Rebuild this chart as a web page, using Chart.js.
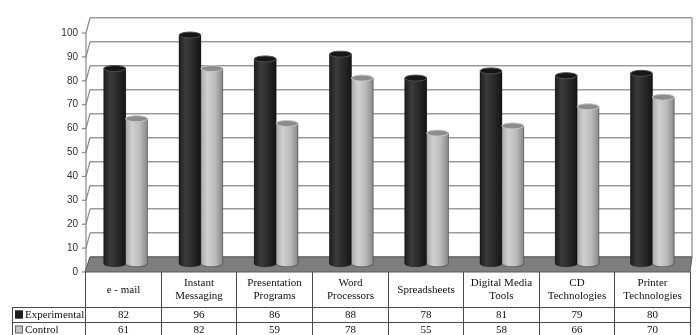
<!DOCTYPE html>
<html><head><meta charset="utf-8">
<script src="https://cdn.jsdelivr.net/npm/chart.js@4"></script>
<style>html,body{margin:0;padding:0;background:#fff}#wrap{width:696px;height:335px;position:relative}</style>
</head><body><div id="wrap"><canvas id="c" width="696" height="335"></canvas></div>
<script>
const categories = [["e - mail"],["Instant","Messaging"],["Presentation","Programs"],["Word","Processors"],["Spreadsheets"],["Digital Media","Tools"],["CD","Technologies"],["Printer","Technologies"]];
const seriesNames = ["Experimental","Control"];
const experimental = [82,96,86,88,78,81,79,80];
const control = [61,82,59,78,55,58,66,70];
const yMin = 0, yMax = 100, yStep = 10;

const DX = 5, DY = 15; // 3D depth (back wall vs front)
const SERIF = '"Liberation Serif","Times New Roman",serif';

function drawCyl(ctx, x, top, base, w, dark) {
  const l = x - w/2, r = x + w/2, ry = 3;
  const g = ctx.createLinearGradient(l,0,r,0);
  if (dark) { g.addColorStop(0,'#1e1e1e'); g.addColorStop(0.3,'#3b3b3b'); g.addColorStop(0.6,'#2b2b2b'); g.addColorStop(1,'#151515'); }
  else { g.addColorStop(0,'#a9a9a9'); g.addColorStop(0.3,'#d0d0d0'); g.addColorStop(0.65,'#bbbbbb'); g.addColorStop(1,'#888888'); }
  ctx.fillStyle = g;
  ctx.beginPath();
  ctx.moveTo(l, top);
  ctx.lineTo(l, base);
  ctx.ellipse(x, base, w/2, ry, 0, Math.PI, 0, true);
  ctx.lineTo(r, top);
  ctx.closePath();
  ctx.fill();
  ctx.strokeStyle = 'rgba(0,0,0,0.45)'; ctx.lineWidth = 0.8; ctx.stroke();
  ctx.beginPath();
  ctx.ellipse(x, top, w/2, ry, 0, 0, Math.PI*2);
  ctx.fillStyle = dark ? '#161616' : '#8c8c8c';
  ctx.fill();
  ctx.strokeStyle = dark ? '#505050' : '#c6c6c6'; ctx.lineWidth = 1; ctx.stroke();
}

const deco = {
  id: 'deco',
  beforeDatasetsDraw(chart) {
    const {ctx, chartArea: a, scales: {y}} = chart;
    ctx.save();
    ctx.strokeStyle = '#9c9c9c'; ctx.lineWidth = 1.5;
    ctx.beginPath(); ctx.moveTo(a.right, a.top); ctx.lineTo(a.right, a.bottom); ctx.stroke();
    ctx.strokeStyle = '#888'; ctx.lineWidth = 1.2;
    const fx = a.left - DX + 1;
    ctx.beginPath();
    ctx.moveTo(fx, y.getPixelForValue(yMax) + DY);
    ctx.lineTo(fx, y.getPixelForValue(yMin) + DY);
    ctx.stroke();
    for (let v = yMin; v <= yMax; v += yStep) {
      const by = y.getPixelForValue(v);
      ctx.beginPath(); ctx.moveTo(fx, by + DY); ctx.lineTo(a.left, by); ctx.stroke();
      ctx.beginPath(); ctx.moveTo(fx - 4, by + DY); ctx.lineTo(fx, by + DY); ctx.stroke();
    }
    const b = y.getPixelForValue(yMin);
    ctx.fillStyle = '#7e7e7e';
    ctx.beginPath();
    ctx.moveTo(a.left, b); ctx.lineTo(a.right, b); ctx.lineTo(a.right - 2, b + DY); ctx.lineTo(a.left - DX, b + DY); ctx.closePath();
    ctx.fill();
    ctx.strokeStyle = '#5a5a5a'; ctx.lineWidth = 1; ctx.stroke();
    ctx.restore();
    ctx.save();
    ctx.translate(-2, DY/2);
  },
  afterDatasetsDraw(chart) {
    const {ctx} = chart;
    chart.data.datasets.forEach((ds, di) => {
      const meta = chart.getDatasetMeta(di);
      meta.data.forEach(el => {
        const p = el.getProps(['x','y','base','width'], true);
        drawCyl(ctx, p.x, p.y, p.base, p.width, di === 0);
      });
    });
    ctx.restore();
  },
  afterDraw(chart) {
    const {ctx, chartArea: a, scales: {x, y}} = chart;
    const fl = a.left - DX, fr = a.right - 2;
    const fX = bx => fl + (bx - a.left) * (fr - fl) / (a.right - a.left);
    const top = y.getPixelForValue(yMin) + DY;
    const r1 = top + 35, r2 = r1 + 15, r3 = r2 + 15;
    const n = categories.length;
    const bounds = [];
    for (let i = 0; i <= n; i++) {
      let bx;
      if (i === 0) bx = a.left; else if (i === n) bx = a.right;
      else bx = (x.getPixelForValue(i - 1) + x.getPixelForValue(i)) / 2;
      bounds.push(Math.round(fX(bx)) + 0.5);
    }
    ctx.save();
    ctx.strokeStyle = '#4a4a4a'; ctx.lineWidth = 1;
    ctx.beginPath();
    bounds.forEach(bx => { ctx.moveTo(bx, top); ctx.lineTo(bx, r3 + 2); });
    const lx = 12.5;
    [r1, r2, r3].forEach(ry => { ctx.moveTo(lx, Math.round(ry) + 0.5); ctx.lineTo(bounds[n], Math.round(ry) + 0.5); });
    ctx.moveTo(lx, r1); ctx.lineTo(lx, r3 + 2);
    ctx.stroke();
    ctx.fillStyle = '#111';
    ctx.textAlign = 'center'; ctx.textBaseline = 'middle';
    ctx.font = '11px ' + SERIF;
    categories.forEach((lines, i) => {
      const cx = (bounds[i] + bounds[i + 1]) / 2;
      const cy = (top + r1) / 2;
      if (lines.length === 1) ctx.fillText(lines[0], cx, cy + 1);
      else { ctx.fillText(lines[0], cx, cy - 6); ctx.fillText(lines[1], cx, cy + 7); }
      ctx.fillText(String(experimental[i]), cx, (r1 + r2) / 2 + 1);
      ctx.fillText(String(control[i]), cx, (r2 + r3) / 2 + 1);
    });
    ctx.textAlign = 'left';
    const keys = [['#1e1e1e', '#1e1e1e'], ['#c4c4c4', '#555']];
    [r1, r2].forEach((ry, k) => {
      const cy = ry + 7.5;
      ctx.fillStyle = keys[k][0];
      ctx.fillRect(15, cy - 4, 8, 8);
      ctx.strokeStyle = keys[k][1]; ctx.lineWidth = 0.8;
      ctx.strokeRect(15.5, cy - 3.5, 7, 7);
      ctx.fillStyle = '#111';
      ctx.fillText(seriesNames[k], 25, cy + 1);
    });
    ctx.restore();
  }
};

new Chart(document.getElementById('c'), {
  type: 'bar',
  data: {
    labels: categories,
    datasets: [
      { label: seriesNames[0], data: experimental, backgroundColor: '#2a2a2a', clip: false },
      { label: seriesNames[1], data: control, backgroundColor: '#bbbbbb', clip: false }
    ]
  },
  options: {
    responsive: false,
    animation: false,
    events: [],
    layout: { padding: { top: 11, right: 4, bottom: 78, left: 0 } },
    datasets: { bar: { categoryPercentage: 0.58, barPercentage: 1.0 } },
    plugins: { legend: { display: false }, tooltip: { enabled: false } },
    scales: {
      x: { display: false },
      y: {
        min: yMin, max: yMax,
        afterFit: s => { s.width = 90; },
        ticks: { stepSize: yStep, labelOffset: DY, padding: 12, color: '#333',
                 font: { family: '"Liberation Sans", Arial, sans-serif', size: 10 } },
        grid: { color: '#9c9c9c', lineWidth: 1.5, drawTicks: false },
        border: { display: false }
      }
    }
  },
  plugins: [deco]
});
</script>
</body></html>
